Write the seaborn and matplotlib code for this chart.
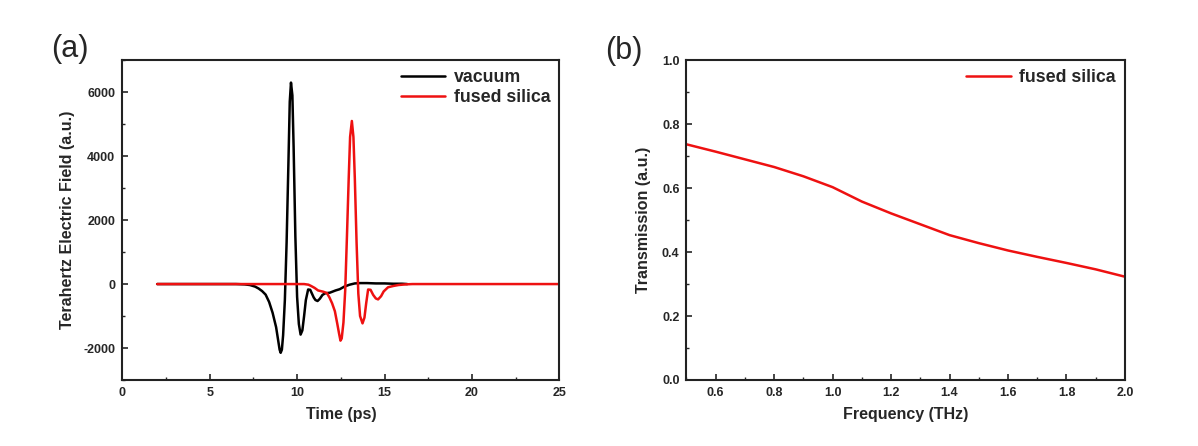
import seaborn as sns
import matplotlib.pyplot as plt
from matplotlib.ticker import MultipleLocator

sns.set_style("ticks")
plt.rcParams['font.family'] = ['Liberation Sans', 'DejaVu Sans']
plt.rcParams['axes.unicode_minus'] = False

# (a) time-domain THz pulses
t_vac = [2.0, 6.5, 7.0, 7.3, 7.6, 7.8, 8.0, 8.2, 8.4, 8.6, 8.8, 8.9, 9.0, 9.06, 9.13,
         9.2, 9.3, 9.4, 9.5, 9.58, 9.65, 9.73, 9.8, 9.9, 10.0, 10.1, 10.2, 10.3, 10.4,
         10.5, 10.63, 10.75, 10.85, 10.95, 11.05, 11.17, 11.3, 11.45, 11.6, 11.87, 12.2,
         12.44, 12.7, 13.0, 13.3, 13.6, 14.0, 14.5, 15.0, 15.5, 16.0, 16.3]
e_vac = [0, 0, -10, -30, -80, -140, -220, -330, -560, -900, -1350, -1700, -2050, -2150, -2050,
         -1600, -500, 1300, 3700, 5700, 6300, 5900, 4300, 1500, -400, -1250, -1580, -1450, -1000,
         -500, -170, -180, -300, -420, -500, -530, -460, -340, -290, -270, -200,
         -160, -80, -20, 20, 30, 30, 20, 20, 10, 10, 0]

t_fs = [2.0, 10.4, 10.65, 10.8, 11.0, 11.2, 11.5, 11.7, 11.85, 12.0, 12.16, 12.3, 12.4,
        12.48, 12.55, 12.65, 12.75, 12.85, 12.95, 13.03, 13.13, 13.22, 13.3, 13.4, 13.5, 13.6,
        13.74, 13.85, 13.95, 14.06, 14.2, 14.35, 14.5, 14.63, 14.8, 14.95, 15.2, 15.5, 15.8,
        16.2, 16.6, 25.0]
e_fs = [0, 0, -20, -60, -120, -200, -240, -280, -420, -600, -850, -1250, -1550,
        -1770, -1700, -1200, -200, 1500, 3300, 4600, 5100, 4600, 3300, 1300, -300, -1000,
        -1230, -1050, -600, -170, -180, -340, -450, -480, -380, -230, -100, -60, -30,
        -10, 0, 0]

# (b) transmission spectrum
freq = [0.5, 0.6, 0.7, 0.8, 0.9, 1.0, 1.1, 1.2, 1.3, 1.4, 1.5, 1.6, 1.7, 1.8, 1.9, 2.0]
trans = [0.737, 0.714, 0.69, 0.666, 0.637, 0.603, 0.558, 0.521, 0.487, 0.453, 0.428,
         0.405, 0.385, 0.366, 0.346, 0.323]

fig = plt.figure(figsize=(11.98, 4.46), dpi=100)
ax1 = fig.add_axes([0.102, 0.148, 0.365, 0.717])
ax2 = fig.add_axes([0.573, 0.148, 0.366, 0.717])

sns.lineplot(x=t_vac, y=e_vac, ax=ax1, color='black', lw=1.8, label='vacuum')
sns.lineplot(x=t_fs, y=e_fs, ax=ax1, color='#ee1111', lw=1.8, label='fused silica')
sns.lineplot(x=freq, y=trans, ax=ax2, color='#ee1111', lw=1.8, label='fused silica')

ax1.set_xlim(0, 25)
ax1.set_ylim(-3000, 7000)
ax1.set_yticks([-2000, 0, 2000, 4000, 6000])
ax1.xaxis.set_major_locator(MultipleLocator(5))
ax1.xaxis.set_minor_locator(MultipleLocator(2.5))
ax1.yaxis.set_minor_locator(MultipleLocator(1000))
ax1.set_xlabel('Time (ps)', fontsize=11.5, fontweight='bold', labelpad=6)
ax1.set_ylabel('Terahertz Electric Field (a.u.)', fontsize=11.5, fontweight='bold', labelpad=6)

ax2.set_xlim(0.5, 2.0)
ax2.set_ylim(0, 1.0)
ax2.set_xticks([0.6, 0.8, 1.0, 1.2, 1.4, 1.6, 1.8, 2.0])
ax2.xaxis.set_minor_locator(MultipleLocator(0.1))
ax2.yaxis.set_major_locator(MultipleLocator(0.2))
ax2.yaxis.set_minor_locator(MultipleLocator(0.1))
ax2.set_xlabel('Frequency (THz)', fontsize=11.5, fontweight='bold', labelpad=6)
ax2.set_ylabel('Transmission (a.u.)', fontsize=11.5, fontweight='bold', labelpad=8)

for ax in (ax1, ax2):
    for s in ax.spines.values():
        s.set_linewidth(1.5)
        s.set_color('#222222')
    ax.tick_params(which='major', direction='in', length=4, width=1.2, labelsize=9, pad=5)
    ax.tick_params(which='minor', direction='in', length=2, width=1.0)
    for lab in ax.get_xticklabels() + ax.get_yticklabels():
        lab.set_fontweight('bold')
    ax.legend(loc='upper right', frameon=False, handlelength=2.5,
              prop={'size': 12.8, 'weight': 'bold'}, borderaxespad=0.1,
              labelspacing=0.15, handletextpad=0.5)

fig.text(0.043, 0.89, '(a)', fontsize=22, va='center')
fig.text(0.505, 0.885, '(b)', fontsize=22, va='center')

fig.savefig('out.png', dpi=100, facecolor='white')
